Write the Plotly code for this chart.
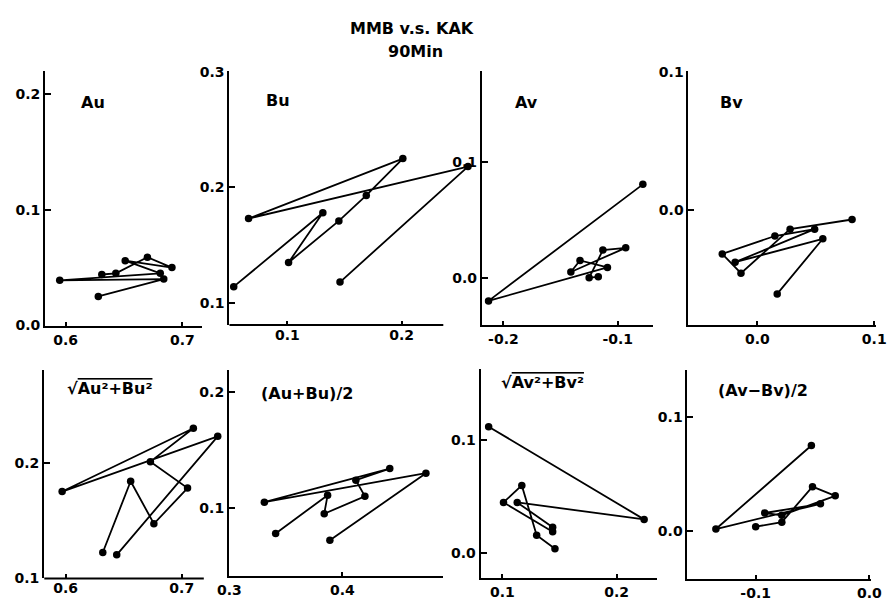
import plotly.graph_objects as go

W, H = 895, 601

# ---- data (9 successive time points per panel) ----
au_x = [0.628, 0.684, 0.595, 0.681, 0.651, 0.691, 0.670, 0.643, 0.631]
au_y = [0.025, 0.040, 0.039, 0.045, 0.056, 0.050, 0.059, 0.045, 0.044]

bu_x = [0.146, 0.258, 0.066, 0.201, 0.169, 0.145, 0.101, 0.131, 0.053]
bu_y = [0.118, 0.218, 0.173, 0.225, 0.193, 0.171, 0.135, 0.178, 0.114]

av_x = [-0.078, -0.213, -0.109, -0.133, -0.141, -0.093, -0.113, -0.125, -0.117]
av_y = [0.081, -0.020, 0.009, 0.015, 0.005, 0.026, 0.024, 0.000, 0.001]

bv_x = [0.017, 0.056, -0.019, 0.049, 0.015, -0.030, -0.014, 0.028, 0.081]
bv_y = [-0.061, -0.021, -0.038, -0.014, -0.019, -0.032, -0.046, -0.014, -0.007]

ampu_x = [0.644, 0.731, 0.597, 0.710, 0.673, 0.705, 0.676, 0.656, 0.632]
ampu_y = [0.120, 0.223, 0.175, 0.230, 0.201, 0.178, 0.147, 0.184, 0.122]

meanu_x = [0.389, 0.474, 0.331, 0.442, 0.412, 0.420, 0.384, 0.387, 0.341]
meanu_y = [0.072, 0.130, 0.105, 0.134, 0.124, 0.110, 0.095, 0.111, 0.078]

ampv_x = [0.088, 0.224, 0.113, 0.144, 0.144, 0.101, 0.117, 0.130, 0.146]
ampv_y = [0.112, 0.030, 0.045, 0.023, 0.019, 0.045, 0.060, 0.016, 0.004]

diffv_x = [-0.051, -0.135, -0.043, -0.092, -0.077, -0.030, -0.050, -0.077, -0.100]
diffv_y = [0.075, 0.002, 0.024, 0.016, 0.014, 0.031, 0.039, 0.008, 0.004]

panel_labels = [
    "Au", "Bu", "Av", "Bv",
    "√<span style='text-decoration:overline'>Au²+Bu²</span>",
    "(Au+Bu)/2",
    "√<span style='text-decoration:overline'>Av²+Bv²</span>",
    "(Av−Bv)/2",
]
x_ticks = [[0.6, 0.7], [0.1, 0.2], [-0.2, -0.1], [0.0, 0.1],
           [0.6, 0.7], [0.3, 0.4], [0.1, 0.2], [-0.1, 0.0]]
y_ticks = [[0.0, 0.1, 0.2], [0.1, 0.2, 0.3], [0.0, 0.1], [0.0, 0.1],
           [0.1, 0.2], [0.1, 0.2], [0.0, 0.1], [0.0, 0.1]]
title_lines = ["MMB v.s. KAK", "90Min"]

series = [(au_x, au_y), (bu_x, bu_y), (av_x, av_y), (bv_x, bv_y),
          (ampu_x, ampu_y), (meanu_x, meanu_y), (ampv_x, ampv_y), (diffv_x, diffv_y)]

# ---- layout geometry (pixels) ----
boxes = [  # left, right, top, bottom
    (34, 195, 65, 326), (223, 472.7, 65, 325), (482.3, 658.3, 65, 325), (694.3, 886.7, 65, 325),
    (33, 217, 371.7, 585), (222.7, 442.7, 371.7, 582.3), (481, 661.7, 370, 585), (693.3, 881.7, 371.7, 586),
]
xranges = [[0.5825, 0.7167], [0.0491, 0.262], [-0.2188, -0.0688], [-0.0589, 0.1014],
           [0.5815, 0.7359], [0.2997, 0.4894], [0.081, 0.235], [-0.16, 0.0015]]
yranges = [[-0.0005, 0.22], [0.0809, 0.3005], [-0.0408, 0.1789], [-0.0835, 0.1005],
           [0.0995, 0.2803], [0.0414, 0.2188], [-0.0222, 0.1632], [-0.042, 0.1406]]
# x-axis lines shorter than the plotting area (points lying past the axis end)
short_xline = {1: 0.2364, 4: 0.719}
label_pos = [(83, 97), (273, 95), (528, 97), (738, 97),
             (100, 390), (303, 395), (545, 384), (771, 392)]

FONT = "DejaVu Sans"
fig = go.Figure()
shapes = []
annotations = []


def fmt(v):
    return f"{v:.1f}"


for i, ((xs, ys), (l, r, t, b)) in enumerate(zip(series, boxes)):
    k = "" if i == 0 else str(i + 1)
    fig.add_trace(go.Scatter(
        x=xs, y=ys, mode="lines+markers", xaxis="x" + k, yaxis="y" + k,
        line=dict(color="black", width=1.8),
        marker=dict(color="black", size=7.5),
        cliponaxis=False, showlegend=False, hoverinfo="skip"))
    fig.layout["xaxis" + k] = dict(
        domain=[l / W, r / W], range=xranges[i], anchor="y" + k,
        showgrid=False, zeroline=False, showline=(i not in short_xline),
        linecolor="black", linewidth=2,
        ticks="inside", ticklen=4, tickwidth=1.5, tickcolor="black",
        tickvals=x_ticks[i], ticktext=[fmt(v) for v in x_ticks[i]],
        tickfont=dict(family=FONT, size=14, color="black", weight="bold"))
    fig.layout["yaxis" + k] = dict(
        domain=[1 - b / H, 1 - t / H], range=yranges[i], anchor="x" + k,
        showgrid=False, zeroline=False, showline=True, linecolor="black", linewidth=2,
        ticks="inside", ticklen=6, tickwidth=1.5, tickcolor="black",
        tickvals=y_ticks[i], ticktext=[fmt(v) for v in y_ticks[i]],
        tickfont=dict(family=FONT, size=14, color="black", weight="bold"))
    if i in short_xline:
        shapes.append(dict(type="line", xref="x" + k, yref="y" + k + " domain",
                           x0=xranges[i][0], x1=short_xline[i], y0=0, y1=0,
                           line=dict(color="black", width=2)))
    lx, ly = label_pos[i]
    annotations.append(dict(text=panel_labels[i], x=lx / W, y=1 - ly / H, xref="paper", yref="paper",
                            showarrow=False, xanchor="center", yanchor="middle",
                            font=dict(family=FONT, size=16, color="black", weight="bold")))

annotations.append(dict(text=title_lines[0], x=411 / W, y=1 - 21 / H, xref="paper", yref="paper",
                        showarrow=False, xanchor="center", yanchor="middle",
                        font=dict(family=FONT, size=16, color="black", weight="bold")))
annotations.append(dict(text=title_lines[1], x=414 / W, y=1 - 45 / H, xref="paper", yref="paper",
                        showarrow=False, xanchor="center", yanchor="middle",
                        font=dict(family=FONT, size=16, color="black", weight="bold")))

fig.update_layout(width=W, height=H, margin=dict(l=0, r=0, t=0, b=0),
                  paper_bgcolor="white", plot_bgcolor="white",
                  shapes=shapes, annotations=annotations)
fig.write_html("out.html")
